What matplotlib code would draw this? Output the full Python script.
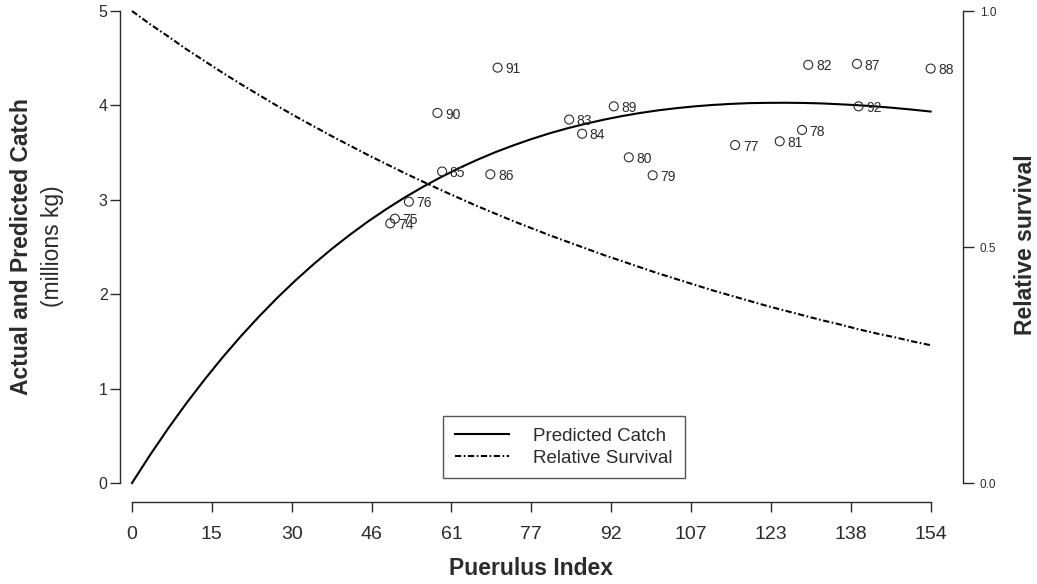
import numpy as np
import matplotlib
matplotlib.use('Agg')
import matplotlib.pyplot as plt

plt.rcParams['font.family'] = ['Liberation Sans', 'DejaVu Sans']

# catch by season (year label, puerulus index, catch in millions kg)
years = ['74', '75', '76', '77', '78', '79', '80', '81', '82', '83',
         '84', '85', '86', '87', '88', '89', '90', '91', '92']
puerulus = [49.8, 50.7, 53.4, 116.3, 129.2, 100.4, 95.8, 124.9, 130.4, 84.3,
            86.8, 59.8, 69.1, 139.8, 154.0, 92.9, 58.9, 70.5, 140.1]
catch = [2.75, 2.80, 2.98, 3.58, 3.74, 3.26, 3.45, 3.62, 4.43, 3.85,
         3.70, 3.30, 3.27, 4.44, 4.39, 3.99, 3.92, 4.40, 3.99]

# curves
curve_x = [0, 3.5, 7, 10.5, 14, 17.5, 21, 24.5, 28, 31.5, 35, 38.5, 42, 45.5,
           49, 52.5, 56, 59.5, 63, 66.5, 70, 73.5, 77, 80.5, 84, 87.5, 91,
           94.5, 98, 101.5, 105, 108.5, 112, 115.5, 119, 122.5, 126, 129.5,
           133, 136.5, 140, 143.5, 147, 150.5, 154]
pred_catch = [0.0, 0.298, 0.580, 0.846, 1.096, 1.333, 1.555, 1.764, 1.961,
              2.145, 2.317, 2.479, 2.629, 2.770, 2.900, 3.022, 3.134, 3.238,
              3.334, 3.422, 3.503, 3.576, 3.643, 3.704, 3.758, 3.806, 3.849,
              3.887, 3.920, 3.948, 3.971, 3.990, 4.005, 4.016, 4.024, 4.027,
              4.028, 4.026, 4.021, 4.012, 4.002, 3.989, 3.973, 3.955, 3.935]
rel_survival = [1.0, 0.972, 0.946, 0.919, 0.894, 0.869, 0.845, 0.822, 0.799,
                0.777, 0.756, 0.735, 0.715, 0.695, 0.676, 0.657, 0.639, 0.621,
                0.604, 0.587, 0.571, 0.555, 0.540, 0.525, 0.511, 0.497, 0.483,
                0.470, 0.457, 0.444, 0.432, 0.420, 0.408, 0.397, 0.386, 0.375,
                0.365, 0.355, 0.345, 0.336, 0.326, 0.317, 0.309, 0.300, 0.292]

xtick_pos = [0, 15.4, 30.8, 46.2, 61.6, 77, 92.4, 107.8, 123.2, 138.6, 154]
xtick_labels = ['0', '15', '30', '46', '61', '77', '92', '107', '123', '138', '154']
ytick_left = [0, 1, 2, 3, 4, 5]
ytick_right = [0.0, 0.5, 1.0]

W, H = 1037, 584
ink = '#2b2b2b'

fig = plt.figure(figsize=(W / 100, H / 100), dpi=100)
ax = fig.add_axes([120 / W, (H - 502) / H, 843 / W, 491 / H])
ax.set_xlim(-2.31, 160.24)
ax.set_ylim(-0.201, 5.0)

line_pred, = ax.plot(curve_x, pred_catch, color='black', lw=1.5, clip_on=False)

ax2 = ax.twinx()
ax2.set_ylim(-0.201 / 5, 1.0)
line_surv, = ax2.plot(curve_x, rel_survival, color='black', lw=1.5,
                      linestyle=(0, (3, 1.2, 0.8, 1.2)), clip_on=False)

ax.scatter(puerulus, catch, s=42, facecolors='none', edgecolors=ink,
           linewidths=0.8, zorder=3)
for px, c, yr in zip(puerulus, catch, years):
    ax.annotate(yr, (px, c), xytext=(5.5, -1.2), textcoords='offset points',
                ha='left', va='center', fontsize=10, color=ink)

for a in (ax, ax2):
    a.spines['top'].set_visible(False)
ax.spines['right'].set_visible(False)
ax2.spines['left'].set_visible(False)
ax2.spines['bottom'].set_visible(False)
ax.spines['left'].set_bounds(0, 5)
ax.spines['bottom'].set_bounds(0, 154)
ax2.spines['right'].set_bounds(0, 1)
for sp in (ax.spines['left'], ax.spines['bottom'], ax2.spines['right']):
    sp.set_color(ink)
    sp.set_linewidth(1.0)

ax.set_xticks(xtick_pos)
ax.set_xticklabels(xtick_labels)
ax.set_yticks(ytick_left)
ax.set_yticklabels([str(v) for v in ytick_left])
ax2.set_yticks(ytick_right)
ax2.set_yticklabels(['%.1f' % v for v in ytick_right])

ax.tick_params(axis='x', direction='out', length=7.5, width=1, pad=10,
               labelsize=14, color=ink, labelcolor=ink)
ax.tick_params(axis='y', direction='out', length=7.5, width=1, pad=1.5,
               labelsize=11.5, color=ink, labelcolor=ink)
ax2.tick_params(axis='y', direction='out', length=8, width=1, pad=4,
                labelsize=8.5, color=ink, labelcolor=ink)

fig.text(531 / W, 1 - 575 / H, 'Puerulus Index', ha='center', va='baseline',
         fontsize=16.5, fontweight='bold', color=ink)
fig.text(22 / W, 1 - 247 / H, 'Actual and Predicted Catch', rotation=90,
         ha='center', va='center', fontsize=16.5, fontweight='bold', color=ink)
fig.text(52 / W, 1 - 246 / H, '(millions kg)', rotation=90,
         ha='center', va='center', fontsize=16.5, color=ink)
fig.text(1025 / W, 1 - 245 / H, 'Relative survival', rotation=90,
         ha='center', va='center', fontsize=16.5, fontweight='bold', color=ink)

leg = ax.legend([line_pred, line_surv], ['Predicted Catch', 'Relative Survival'],
                loc='upper left', bbox_to_anchor=(443 / W, 1 - 416 / H),
                bbox_transform=fig.transFigure, fontsize=13.5, frameon=True,
                fancybox=False, borderpad=0.62, borderaxespad=0,
                handlelength=2.9, handletextpad=1.3, labelspacing=0.25)
leg.get_frame().set_edgecolor(ink)
leg.get_frame().set_linewidth(1.0)
for t in leg.get_texts():
    t.set_color(ink)

fig.savefig('out.png', dpi=100)
